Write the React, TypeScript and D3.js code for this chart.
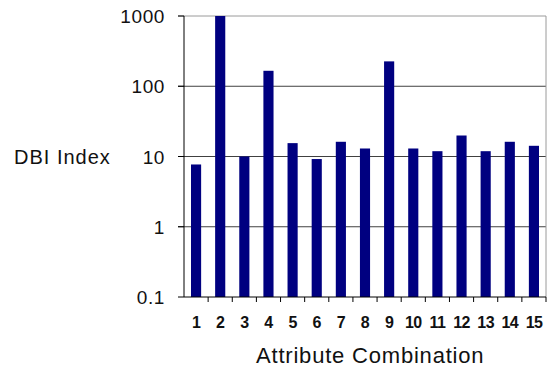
import React, { useEffect, useRef } from 'react';
import * as d3 from 'd3';

const categories = ['1', '2', '3', '4', '5', '6', '7', '8', '9', '10', '11', '12', '13', '14', '15'];
const dbiValues = [7.7, 1000, 10, 166, 15.5, 9.2, 16.2, 13, 226, 13, 11.9, 19.9, 11.9, 16.2, 14.2];
const yTicks = [0.1, 1, 10, 100, 1000];
const yTickLabels = ['0.1', '1', '10', '100', '1000'];

const W = 547;
const H = 369;
const margin = { top: 16, right: 1, bottom: 72, left: 184 };

export default function App() {
  const ref = useRef<SVGSVGElement>(null);

  useEffect(() => {
    const svg = d3.select(ref.current);
    svg.selectAll('*').remove();

    const x0 = margin.left;
    const x1 = W - margin.right;
    const y0 = H - margin.bottom;
    const y1 = margin.top;

    const x = d3.scaleBand().domain(categories).range([x0, x1]).paddingInner(0.58).paddingOuter(0.29);
    const y = d3.scaleLog().domain([0.1, 1000]).range([y0, y1]);

    const font = '"Liberation Sans", Arial, sans-serif';

    // inner grid lines, dark
    svg.append('g')
      .selectAll('line')
      .data(yTicks.slice(1, -1))
      .enter()
      .append('line')
      .attr('x1', x0 - 6)
      .attr('x2', x1)
      .attr('y1', d => y(d))
      .attr('y2', d => y(d))
      .attr('stroke', '#404040');

    // top + right frame in grey
    svg.append('line').attr('x1', x0 - 6).attr('x2', x1).attr('y1', y1).attr('y2', y1).attr('stroke', '#9a9a9a');
    svg.append('line').attr('x1', x1).attr('x2', x1).attr('y1', y1).attr('y2', y0).attr('stroke', '#9a9a9a');

    // bars
    svg.append('g')
      .selectAll('rect')
      .data(dbiValues)
      .enter()
      .append('rect')
      .attr('x', (d, i) => x(categories[i]) as number)
      .attr('width', x.bandwidth())
      .attr('y', d => y(d))
      .attr('height', d => y0 - y(d))
      .attr('fill', '#000080');

    // y axis
    svg.append('line').attr('x1', x0).attr('x2', x0).attr('y1', y1).attr('y2', y0).attr('stroke', '#000');
    svg.append('g')
      .selectAll('line')
      .data(yTicks)
      .enter()
      .append('line')
      .attr('x1', x0 - 6)
      .attr('x2', x0)
      .attr('y1', d => y(d))
      .attr('y2', d => y(d))
      .attr('stroke', '#000');

    svg.append('g')
      .selectAll('text')
      .data(yTicks)
      .enter()
      .append('text')
      .attr('x', 165)
      .attr('y', d => y(d) + 7)
      .attr('text-anchor', 'end')
      .attr('font-family', font)
      .attr('font-size', 19)
      .attr('letter-spacing', 0.6)
      .attr('fill', '#111')
      .text((d, i) => yTickLabels[i]);

    // x axis
    svg.append('line').attr('x1', x0).attr('x2', x1).attr('y1', y0).attr('y2', y0).attr('stroke', '#000');
    const step = x.step();
    svg.append('g')
      .selectAll('line')
      .data(categories)
      .enter()
      .append('line')
      .attr('x1', (d, i) => x0 + step * (i + 1))
      .attr('x2', (d, i) => x0 + step * (i + 1))
      .attr('y1', y0)
      .attr('y2', y0 + 5)
      .attr('stroke', '#000');

    svg.append('g')
      .selectAll('text')
      .data(categories)
      .enter()
      .append('text')
      .attr('x', d => (x(d) as number) + x.bandwidth() / 2)
      .attr('y', 328)
      .attr('text-anchor', 'middle')
      .attr('font-family', font)
      .attr('font-weight', 'bold')
      .attr('font-size', 16)
      .attr('letter-spacing', -0.6)
      .attr('fill', '#111')
      .text(d => d);

    // axis titles
    svg.append('text')
      .attr('x', 14)
      .attr('y', 164)
      .attr('font-family', font)
      .attr('font-size', 20)
      .attr('letter-spacing', 1)
      .attr('fill', '#111')
      .text('DBI Index');

    svg.append('text')
      .attr('x', 256)
      .attr('y', 363)
      .attr('font-family', font)
      .attr('font-size', 22)
      .attr('letter-spacing', 0.8)
      .attr('fill', '#111')
      .text('Attribute Combination');
  }, []);

  return (
    <svg
      ref={ref}
      width={W}
      height={H}
      style={{ position: 'absolute', left: 0, top: 0, background: '#fff' }}
    />
  );
}
